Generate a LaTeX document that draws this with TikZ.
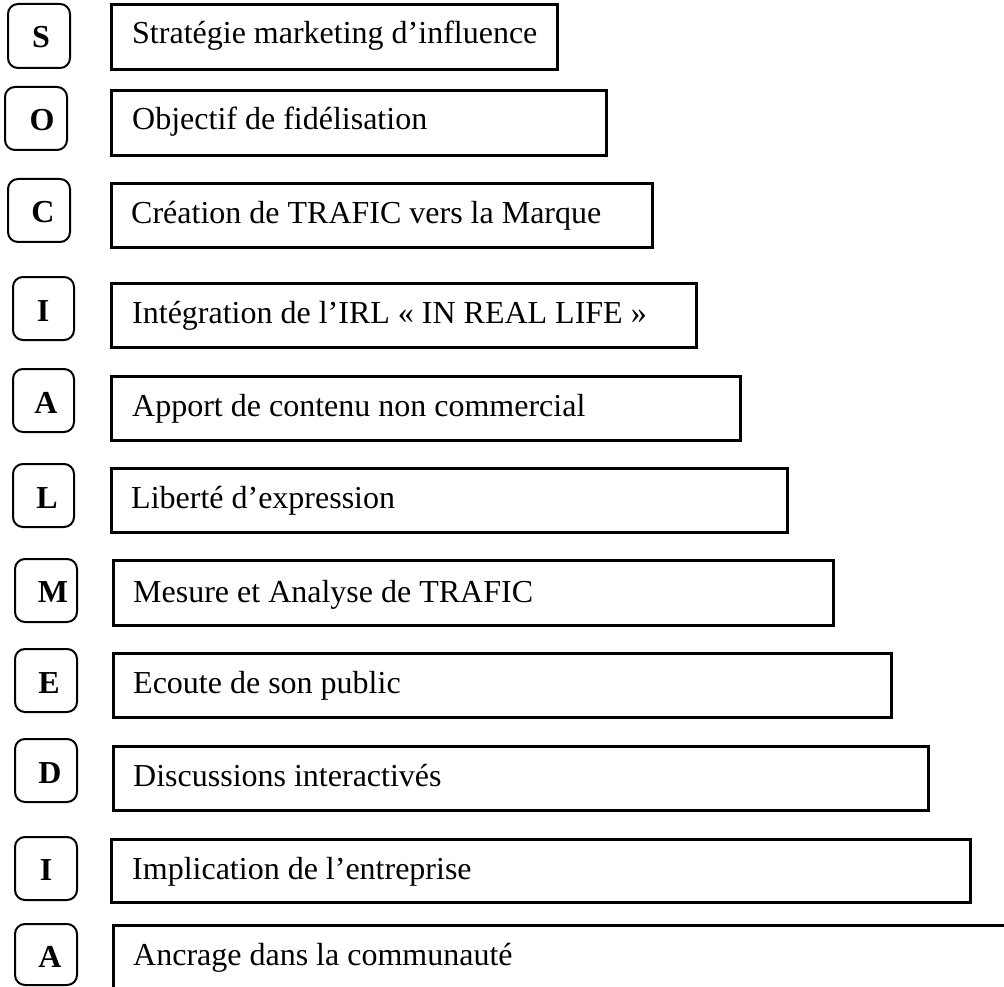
\documentclass[tikz,border=0pt]{standalone}
\usepackage{fontspec}
\setmainfont{Liberation Serif}
\begin{document}
\begin{tikzpicture}[x=1pt,y=-1pt,
  bar/.style={draw=black,line width=3pt,inner sep=0pt,minimum height=64pt},
  letterbox/.style={draw=black,line width=2pt,rounded corners=10pt,inner sep=0pt,
    minimum width=62pt,minimum height=63pt},
  letter/.style={anchor=base,inner sep=0pt,font=\fontsize{32}{38}\selectfont\bfseries},
  label/.style={anchor=base west,inner sep=0pt,font=\fontsize{32}{38}\selectfont}]
\useasboundingbox (0,0) rectangle (1004,987);

% rounded letter boxes
\node[letterbox,minimum height=64pt] (k1) at (39,36) {};
\node[letterbox] (k2) at (36,118.5) {};
\node[letterbox] (k3) at (39,210.5) {};
\node[letterbox,minimum width=61pt] (k4) at (43.5,308.5) {};
\node[letterbox,minimum width=61pt] (k5) at (43.5,400.5) {};
\node[letterbox,minimum width=61pt] (k6) at (43.5,495.5) {};
\node[letterbox] (k7) at (46,590.5) {};
\node[letterbox] (k8) at (46,680.5) {};
\node[letterbox] (k9) at (46,770.5) {};
\node[letterbox] (k10) at (46,868.5) {};
\node[letterbox,minimum height=61pt] (k11) at (46,954.5) {};

% letters
\node[letter] (l1) at (41,48) {S};
\node[letter] (l2) at (42,131) {O};
\node[letter] (l3) at (43,223) {C};
\node[letter] (l4) at (43,321) {I};
\node[letter] (l5) at (46,413) {A};
\node[letter] (l6) at (47,508) {L};
\node[letter] (l7) at (53,602) {M};
\node[letter] (l8) at (49,693) {E};
\node[letter] (l9) at (50,783) {D};
\node[letter] (l10) at (46,880) {I};
\node[letter] (l11) at (50,967) {A};

% text frames, widening downwards
\node[bar,minimum width=446pt,minimum height=65pt] (r1) at (334.5,37) {};
\node[bar,minimum width=495pt,minimum height=65pt] (r2) at (359,123) {};
\node[bar,minimum width=541pt] (r3) at (382,215.5) {};
\node[bar,minimum width=585pt] (r4) at (404,315.5) {};
\node[bar,minimum width=629pt] (r5) at (426,408.5) {};
\node[bar,minimum width=676pt] (r6) at (449.5,500.5) {};
\node[bar,minimum width=720pt,minimum height=65pt] (r7) at (473.5,593) {};
\node[bar,minimum width=778pt] (r8) at (502.5,685.5) {};
\node[bar,minimum width=815pt] (r9) at (521,778.5) {};
\node[bar,minimum width=859pt,minimum height=63pt] (r10) at (541,871) {};
% last frame runs off the page
\coordinate (r11b) at (113.5,995);
\coordinate (r11c) at (113.5,925.5);
\coordinate (r11e) at (1010,925.5);
\draw[line width=3pt] (r11b) -- (r11c) -- (r11e);

% texts
\node[label] (t1) at (132,44) {Stratégie marketing d’influence};
\node[label] (t2) at (132,130) {Objectif de fidélisation};
\node[label] (t3) at (131,224) {Création de TRAFIC vers la Marque};
\node[label] (t4) at (132,323) {Intégration de l’IRL «~IN REAL LIFE~»};
\node[label] (t5) at (132,416) {Apport de contenu non commercial};
\node[label] (t6) at (131,508) {Liberté d’expression};
\node[label] (t7) at (133,602) {Mesure et Analyse de TRAFIC};
\node[label] (t8) at (133,693) {Ecoute de son public};
\node[label] (t9) at (133,786) {Discussions interactivés};
\node[label] (t10) at (132,879) {Implication de l’entreprise};
\node[label] (t11) at (133,965) {Ancrage dans la communauté};
\end{tikzpicture}
\end{document}
